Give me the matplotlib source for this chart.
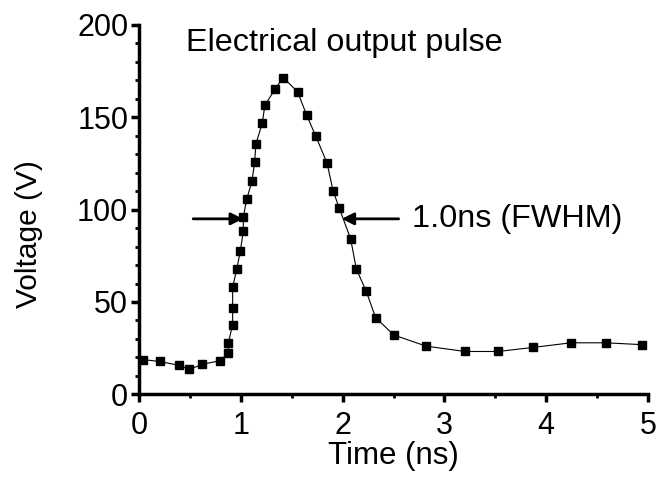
import matplotlib.pyplot as plt
from matplotlib.ticker import MultipleLocator

plt.rcParams['font.family'] = ['Liberation Sans', 'DejaVu Sans']

# pulse samples
time_ns = [0.04, 0.20, 0.39, 0.49, 0.62, 0.79, 0.876, 0.876, 0.918, 0.918,
           0.918, 0.958, 0.993, 1.023, 1.023, 1.056, 1.108, 1.134, 1.147,
           1.21, 1.235, 1.336, 1.415, 1.556, 1.647, 1.735, 1.846, 1.905,
           1.964, 2.078, 2.134, 2.232, 2.324, 2.503, 2.82, 3.203, 3.526,
           3.873, 4.245, 4.585, 4.944]
voltage = [18.8, 17.8, 15.7, 13.5, 16.2, 18.2, 22.3, 27.9, 37.8, 46.9,
           58.0, 67.6, 77.5, 88.3, 95.8, 105.6, 115.3, 125.8, 135.5,
           147.0, 156.6, 165.2, 171.5, 163.8, 151.0, 139.8, 125.2, 110.3,
           101.1, 84.2, 67.9, 55.7, 41.5, 32.1, 26.1, 23.2, 23.2,
           25.4, 27.9, 27.9, 26.9]

fig = plt.figure(figsize=(6.57, 4.78), dpi=100)
ax = fig.add_axes([0.212, 0.175, 0.774, 0.773])

ax.plot(time_ns, voltage, "-", color="black", lw=0.8,
        marker="s", ms=5.5, mfc="black", mec="black")

ax.set_xlim(0, 5)
ax.set_ylim(0, 200)
ax.xaxis.set_major_locator(MultipleLocator(1))
ax.xaxis.set_minor_locator(MultipleLocator(0.5))
ax.yaxis.set_major_locator(MultipleLocator(50))
ax.yaxis.set_minor_locator(MultipleLocator(10))

for side in ["top", "right"]:
  ax.spines[side].set_visible(False)
for side in ["left", "bottom"]:
  ax.spines[side].set_linewidth(2.5)
ax.tick_params(which="major", direction="out", length=6, width=2.5,
               labelsize=22, pad=2)
ax.tick_params(axis="x", which="major", pad=6)
ax.tick_params(which="minor", direction="out", length=3, width=2)

ax.set_xlabel("Time (ns)", fontsize=22.5)
ax.set_ylabel("Voltage (V)", fontsize=21.5)
ax.xaxis.set_label_coords(0.5, -0.125)
ax.yaxis.set_label_coords(-0.19, 0.433)

# annotations
ax.text(0.46, 190, "Electrical output pulse", fontsize=23.3, va="center")
arrow = dict(arrowstyle="-|>", color="black", lw=2, mutation_scale=18,
             shrinkA=0, shrinkB=0)
ax.annotate("", xy=(1.02, 95), xytext=(0.53, 95), arrowprops=arrow)
ax.annotate("", xy=(1.99, 95), xytext=(2.55, 95), arrowprops=arrow)
ax.text(2.68, 95, "1.0ns (FWHM)", fontsize=23.3, va="center")

fig.savefig("out.png", dpi=100)
